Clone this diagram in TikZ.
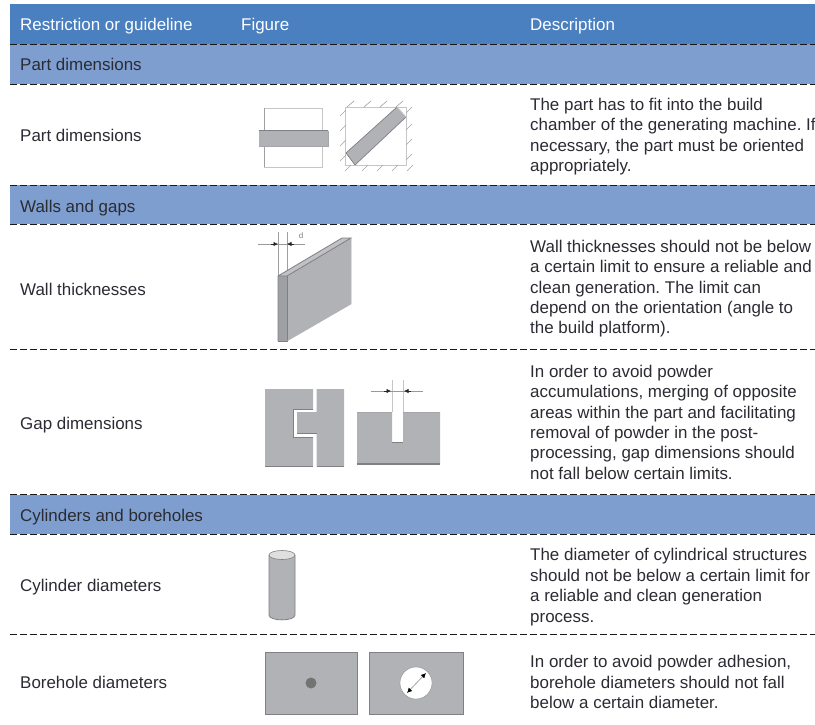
\documentclass[tikz,border=0pt]{standalone}
\usepackage{fontspec}
\setmainfont{Liberation Sans}
\usetikzlibrary{arrows.meta}
\frenchspacing
\definecolor{headblue}{HTML}{4A7FC0}
\definecolor{subblue}{HTML}{7E9ECF}
\definecolor{partgray}{HTML}{B1B2B6}
\definecolor{edgegray}{HTML}{7F8084}
\definecolor{txt}{HTML}{2B2B33}
\tikzset{
  x=1pt,y=-1pt,
  band/.style={fill=#1,draw=none},
  sep/.style={draw=black!90,line width=1.5pt,dash pattern=on 6.5pt off 3.5pt},
  rowtext/.style={anchor=base west,inner sep=0pt,font=\fontsize{16.95}{20}\selectfont,text=txt},
  headtext/.style={rowtext,text=white},
  desc/.style={anchor=north west,inner sep=0pt,align=left,font=\fontsize{16.95}{20.35}\selectfont,text=txt},
  part/.style={fill=partgray,draw=edgegray,line width=0.8pt},
  thin/.style={draw=gray!75,line width=0.9pt},
  thinl/.style={draw=gray!45,line width=0.9pt},
  dim/.style={draw=gray!80,line width=0.9pt},
  tip/.style={-{Latex[length=4.5pt,width=4.5pt]},draw=black!85,line width=0.7pt},
  hatch/.style={draw=gray!70,line width=0.7pt},
}
\begin{document}
\begin{tikzpicture}
\useasboundingbox (0,0) rectangle (815,725);
\clip (0,0) rectangle (815,725);
\fill[white] (0,0) rectangle (815,725);
% bands
\fill[band=headblue] (10,4) rectangle (815,44);
\fill[band=subblue] (10,44) rectangle (815,84);
\fill[band=subblue] (10,185) rectangle (815,224);
\fill[band=subblue] (10,495) rectangle (815,534);
% separators
\foreach \yy in {44.5,84.5,185.5,224.5,349.5,494.5,534.5,634.5}
  \draw[sep] (10,\yy) -- (815,\yy);
% header
\node[headtext] (h1) at (20,31) {Restriction or guideline};
\node[headtext] (h2) at (241,31) {Figure};
\node[headtext] (h3) at (530,31) {Description};
% group rows
\node[rowtext] (g1) at (20,71) {Part dimensions};
\node[rowtext] (g2) at (20,212) {Walls and gaps};
\node[rowtext] (g3) at (20,521) {Cylinders and boreholes};
% first column
\node[rowtext] (r1) at (20,142) {Part dimensions};
\node[rowtext] (r2) at (20,295) {Wall thicknesses};
\node[rowtext] (r3) at (20,429) {Gap dimensions};
\node[rowtext] (r4) at (20,591) {Cylinder diameters};
\node[rowtext] (r5) at (20,688) {Borehole diameters};
% descriptions
\node[desc] (d1) at (530,98) {The part has to fit into the build\\chamber of the generating machine. If\\necessary, the part must be oriented\\appropriately.};
\node[desc] (d2) at (530,240) {Wall thicknesses should not be below\\a certain limit to ensure a reliable and\\clean generation. The limit can\\depend on the orientation (angle to\\the build platform).};
\node[desc] (d3) at (530,365) {In order to avoid powder\\accumulations, merging of opposite\\areas within the part and facilitating\\removal of powder in the post-\\processing, gap dimensions should\\not fall below certain limits.};
\node[desc] (d4) at (530,548.5) {The diameter of cylindrical structures\\should not be below a certain limit for\\a reliable and clean generation\\process.};
\node[desc] (d5) at (530,655.5) {In order to avoid powder adhesion,\\borehole diameters should not fall\\below a certain diameter.};
% figure 1 left
\draw[thinl] (264,108) -- (322.5,108) -- (322.5,167);
\draw[thinl] (264,167) -- (322.5,167);
\draw[thin] (264,108) -- (264,167);
\fill[partgray] (259,131) rectangle (328,146);
\draw[edgegray,line width=1pt] (259,131) -- (328,131);
\draw[edgegray!70,line width=0.6pt] (259,146) -- (328,146) -- (328,131);
% figure 1 right
\draw[thinl] (345,107) rectangle (406,165);
\fill[partgray] (346,153) -- (355,165) -- (406,117) -- (397,107) -- cycle;
\draw[edgegray,line width=0.7pt] (346,153) -- (355,165) -- (406,117);
\draw[edgegray,line width=0.7pt] (346,153) -- (397,107);
\draw[thinl] (397,107) -- (406,117);
\foreach \xx in {351,368,384,400}
  \draw[hatch] (\xx-4,107) -- (\xx+3,101);
\foreach \yy in {113,128,143,158}
  \draw[hatch] (340,\yy+3) -- (346,\yy-3);
\foreach \yy in {110,127,142,157}
  \draw[hatch] (406,\yy+3) -- (412,\yy-3);
\foreach \xx in {348,365,380,395,410}
  \draw[hatch] (\xx-3,171) -- (\xx+3,165);
% figure 2
\draw[thin] (278,232) -- (278,276);
\draw[thin] (287,232) -- (287,276);
\fill[partgray!80!white] (278,276) -- (287,276) -- (351,238) -- (342,238) -- cycle;
\fill[partgray] (287,276) -- (351,238) -- (351,304) -- (287,341) -- cycle;
\fill[partgray!90!black] (278,276) rectangle (287,341);
\draw[edgegray,line width=0.8pt] (278,341) -- (278,276) -- (342,238) -- (351,238) -- (287,276) -- (278,276);
\draw[edgegray,line width=0.6pt] (287,276) -- (287,341) -- (278,341);
\draw[partgray,line width=0.5pt] (351,238) -- (351,304) -- (287,341);
\draw[dim] (258,244) -- (305,244);
\coordinate (wa) at (271,244);
\coordinate (wb) at (278,244);
\coordinate (wc) at (294,244);
\coordinate (wd) at (287,244);
\draw[tip] (wa) -- (wb);
\draw[tip] (wc) -- (wd);
\node[inner sep=0pt,font=\fontsize{8}{8}\selectfont,text=gray] (dlab) at (301,236) {d};
% figure 3 left
\fill[partgray] (265,389) -- (313,389) -- (313,409) -- (293,409) -- (293,437) -- (313,437) -- (313,466) -- (265,466) -- cycle;
\draw[edgegray,line width=1pt] (313,409) -- (293,409) -- (293,437) -- (313,437);
\draw[edgegray,line width=1pt] (265,466) -- (313,466);
\fill[partgray] (316.5,389) -- (344,389) -- (344,466) -- (316.5,466) -- (316.5,433) -- (297,433) -- (297,412) -- (316.5,412) -- cycle;
\draw[edgegray,line width=1pt] (297,433) -- (316.5,433);
\draw[edgegray,line width=1pt] (316.5,466) -- (344,466);
% figure 3 right
\draw[thinl] (392,380) -- (392,412);
\draw[thinl] (403,380) -- (403,412);
\fill[partgray] (357,412) -- (392,412) -- (392,442) -- (403,442) -- (403,412) -- (440,412) -- (440,464) -- (357,464) -- cycle;
\draw[edgegray,line width=1.2pt] (357,464) -- (440,464);
\draw[edgegray,line width=0.9pt] (392,442) -- (403,442);
\draw[edgegray!70,line width=0.5pt] (357,412) -- (392,412) (403,412) -- (440,412);
\draw[dim] (371,391) -- (423,391);
\coordinate (ga) at (384,391);
\coordinate (gb) at (391,391);
\coordinate (gc) at (411,391);
\coordinate (gd) at (404,391);
\draw[tip] (ga) -- (gb);
\draw[tip] (gc) -- (gd);
% cylinder
\fill[partgray] (269,555) -- (295,555) -- (295,615) .. controls (295,621.5) and (269,621.5) .. (269,615) -- cycle;
\draw[edgegray,line width=0.8pt] (269,555) -- (269,615) .. controls (269,621.5) and (295,621.5) .. (295,615) -- (295,555);
\draw[edgegray,fill=gray!25,line width=0.6pt] (282,555) ellipse[x radius=13,y radius=4.5];
% borehole left
\fill[partgray,draw=edgegray,line width=0.9pt] (265,652) rectangle (357,714);
\fill[gray!90!black] (311,683) circle[radius=5.5];
% borehole right
\fill[partgray,draw=edgegray,line width=0.9pt] (369,652) rectangle (463,714);
\fill[white,draw=edgegray,line width=0.3pt] (416,683) circle[radius=16];
\coordinate (ba) at (407,693);
\coordinate (bb) at (426,673);
\draw[{Latex[length=5pt,width=5pt,black]}-{Latex[length=5pt,width=5pt,black]},draw=gray!70,line width=0.8pt] (ba) -- (bb);
\end{tikzpicture}
\end{document}
